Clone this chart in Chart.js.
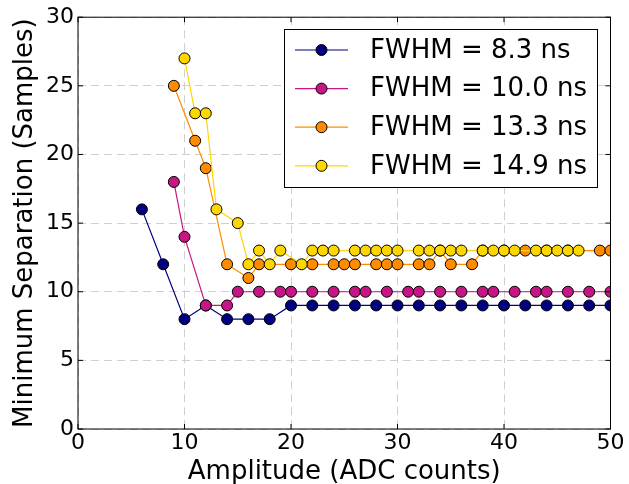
<!DOCTYPE html>
<html>
<head>
<meta charset="utf-8">
<script src="https://cdn.jsdelivr.net/npm/chart.js@4/dist/chart.umd.min.js"></script>
<style>
  body { margin: 0; background: #fff; }
  canvas { display: block; }
</style>
</head>
<body>
<canvas id="sepChart" width="629" height="484"></canvas>
<script>
// FWHM = 8.3 ns
var x83 = [6, 8, 10, 12, 14, 16, 18, 20, 22, 24, 26, 28, 30, 32, 34, 36, 38, 40, 42, 44, 46, 48, 50];
var y83 = [16, 12, 8, 9, 8, 8, 8, 9, 9, 9, 9, 9, 9, 9, 9, 9, 9, 9, 9, 9, 9, 9, 9];
// FWHM = 10.0 ns
var x100 = [9, 10, 12, 14, 15, 17, 19, 20, 22, 24, 26, 27, 29, 31, 32, 34, 36, 38, 39, 41, 43, 44, 46, 48, 50];
var y100 = [18, 14, 9, 9, 10, 10, 10, 10, 10, 10, 10, 10, 10, 10, 10, 10, 10, 10, 10, 10, 10, 10, 10, 10, 10];
// FWHM = 13.3 ns
var x133 = [9, 11, 12, 14, 16, 17, 20, 22, 24, 25, 26, 28, 29, 30, 32, 33, 34, 35, 37, 38, 40, 42, 44, 46, 49, 50];
var y133 = [25, 21, 19, 12, 11, 12, 12, 12, 12, 12, 12, 12, 12, 12, 12, 12, 13, 12, 12, 13, 13, 13, 13, 13, 13, 13];
// FWHM = 14.9 ns
var x149 = [10, 11, 12, 13, 15, 16, 17, 18, 19, 21, 22, 23, 24, 26, 27, 28, 29, 30, 32, 33, 34, 35, 36, 38, 39, 40, 41, 43, 44, 45, 46, 47];
var y149 = [27, 23, 23, 16, 15, 12, 13, 12, 13, 12, 13, 13, 13, 13, 13, 13, 13, 13, 13, 13, 13, 13, 13, 13, 13, 13, 13, 13, 13, 13, 13, 13];

var seriesLabels = ['FWHM = 8.3 ns', 'FWHM = 10.0 ns', 'FWHM = 13.3 ns', 'FWHM = 14.9 ns'];
var seriesColors = ['#000080', '#c71585', '#ff8c00', '#ffd700'];
var xTicks = [0, 10, 20, 30, 40, 50];
var yTicks = [0, 5, 10, 15, 20, 25, 30];

var FONT = "'DejaVu Sans', sans-serif";

function pts(xs, ys) {
    return xs.map(function (x, i) { return { x: x, y: ys[i] }; });
}

function makeSet(i, xs, ys) {
    return {
        label: seriesLabels[i],
        data: pts(xs, ys),
        borderColor: seriesColors[i],
        backgroundColor: seriesColors[i],
        borderWidth: 1.2,
        pointRadius: 5.5,
        pointBorderColor: '#000',
        pointBorderWidth: 1,
        pointBackgroundColor: seriesColors[i],
        tension: 0,
        order: 3 - i
    };
}

// frame, inward ticks and the boxed legend, matplotlib style
var framePlugin = {
    id: 'frame',
    afterDraw: function (chart) {
        var ctx = chart.ctx, a = chart.chartArea;
        var xs = chart.scales.x, ys = chart.scales.y;
        ctx.save();
        ctx.strokeStyle = '#000';
        ctx.lineWidth = 1;
        ctx.strokeRect(a.left, a.top, a.right - a.left, a.bottom - a.top);
        ctx.beginPath();
        xTicks.forEach(function (v) {
            var px = xs.getPixelForValue(v);
            ctx.moveTo(px, a.bottom); ctx.lineTo(px, a.bottom - 5);
            ctx.moveTo(px, a.top); ctx.lineTo(px, a.top + 5);
        });
        yTicks.forEach(function (v) {
            var py = ys.getPixelForValue(v);
            ctx.moveTo(a.left, py); ctx.lineTo(a.left + 5, py);
            ctx.moveTo(a.right, py); ctx.lineTo(a.right - 5, py);
        });
        ctx.stroke();

        // legend
        var lx = 284, ly = 29, lw = 313, lh = 158;
        ctx.fillStyle = '#fff';
        ctx.fillRect(lx, ly, lw, lh);
        ctx.strokeRect(lx + 0.5, ly + 0.5, lw, lh);
        ctx.font = '26px ' + FONT;
        ctx.textBaseline = 'middle';
        for (var i = 0; i < seriesLabels.length; i++) {
            var cy = 50 + i * 38.6;
            ctx.strokeStyle = seriesColors[i];
            ctx.lineWidth = 1.2;
            ctx.beginPath();
            ctx.moveTo(295, cy); ctx.lineTo(348, cy);
            ctx.stroke();
            ctx.beginPath();
            ctx.arc(321.5, cy, 5.5, 0, Math.PI * 2);
            ctx.fillStyle = seriesColors[i];
            ctx.fill();
            ctx.strokeStyle = '#000';
            ctx.lineWidth = 1;
            ctx.stroke();
            ctx.fillStyle = '#000';
            ctx.fillText(seriesLabels[i], 370, cy + 1);
        }
        ctx.restore();
    }
};

var gridStyle = {
    color: '#cfcfcf',
    lineWidth: 1,
    drawTicks: false
};

var ctx = document.getElementById('sepChart').getContext('2d');
var myChart = new Chart(ctx, {
    type: 'line',
    data: {
        datasets: [
            makeSet(0, x83, y83),
            makeSet(1, x100, y100),
            makeSet(2, x133, y133),
            makeSet(3, x149, y149)
        ]
    },
    options: {
        responsive: false,
        animation: false,
        layout: { padding: { left: 0, top: 15.5, right: 18.5, bottom: 0 } },
        plugins: {
            legend: { display: false },
            tooltip: { enabled: false }
        },
        scales: {
            x: {
                type: 'linear',
                min: 0,
                max: 50,
                afterFit: function (s) { s.height = 55; },
                afterBuildTicks: function (s) { s.ticks = xTicks.map(function (v) { return { value: v }; }); },
                grid: gridStyle,
                border: { display: false, dash: [8, 5] },
                ticks: { color: '#000', font: { family: FONT, size: 22 }, padding: 1, maxRotation: 0 },
                title: { display: true, text: 'Amplitude (ADC counts)', color: '#000', font: { family: FONT, size: 26 }, padding: { top: 0, bottom: -4 } }
            },
            y: {
                type: 'linear',
                min: 0,
                max: 30,
                afterFit: function (s) { s.width = 78; },
                afterBuildTicks: function (s) { s.ticks = yTicks.map(function (v) { return { value: v }; }); },
                grid: gridStyle,
                border: { display: false, dash: [8, 5] },
                ticks: { color: '#000', font: { family: FONT, size: 22 }, padding: 4 },
                title: { display: true, text: 'Minimum Separation (Samples)', color: '#000', font: { family: FONT, size: 26 }, padding: { top: 10, bottom: 0 } }
            }
        }
    },
    plugins: [framePlugin]
});
</script>
</body>
</html>
